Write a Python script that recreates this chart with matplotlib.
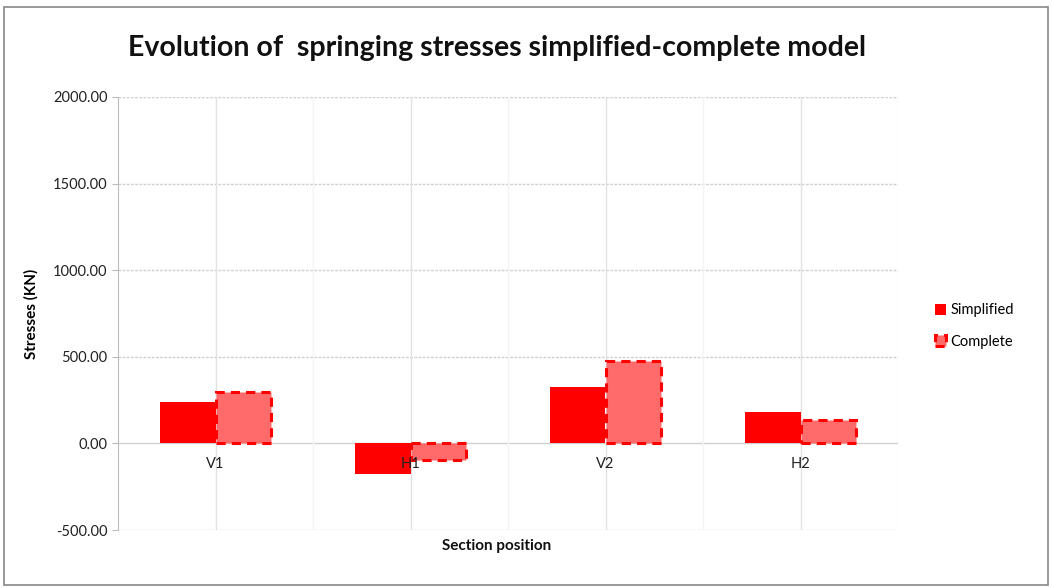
import matplotlib
matplotlib.use("Agg")
import matplotlib.pyplot as plt
import numpy as np
from matplotlib.patches import Rectangle
import matplotlib.transforms as mtransforms

categories = ["V1", "H1", "V2", "H2"]
simplified = [237, -178, 324, 183]
complete = [295, -97, 474, 137]
yticks = [-500, 0, 500, 1000, 1500, 2000]

plt.rcParams['font.family'] = ['Lato', 'DejaVu Sans']

fig = plt.figure(figsize=(10.52, 5.88), dpi=100)
ax = fig.add_axes([118/1052, 1-530/588, (898-118)/1052, (530-97)/588])

x = np.arange(len(categories))
w = 0.285
ax.bar(x - w/2, simplified, w, color="#FF0000", edgecolor="none", label="Simplified", zorder=3)
ax.bar(x + w/2, complete, w, color="#FF6B6B", edgecolor="#FF0000", linewidth=2.2,
       linestyle=(0, (3, 2)), label="Complete", zorder=3)

ax.set_xlim(-0.5, len(categories) - 0.5)
ax.set_ylim(-500, 2000)
ax.set_yticks(yticks)
ax.set_yticklabels([f"{v:.2f}" for v in yticks])
ax.set_xticks(x)
ax.set_xticklabels([])
ax.tick_params(axis='x', length=0)
ax.tick_params(axis='y', length=4, color="#BBBBBB", labelsize=10.5, colors="#222222")

# category labels placed next to the zero line (like Excel)
offset = mtransforms.ScaledTranslation(0, -21/100, fig.dpi_scale_trans)
for xi, lab in zip(x, categories):
    ax.text(xi, 0, lab, ha="center", va="center", fontsize=10.5, color="#222222",
            transform=ax.transData + offset, zorder=4)

for y in yticks:
    ax.axhline(y, color="#D0D0D0", linewidth=1, linestyle=(0, (2, 1)) if y != 0 else '-', zorder=1)
for xi in x:
    ax.axvline(xi, color="#E2E2E2", linewidth=1, zorder=1)
for xb in np.arange(-0.5, len(categories), 1.0)[1:]:
    ax.axvline(xb, color="#F4F4F4", linewidth=1, zorder=1)

for s in ["top", "right", "bottom"]:
    ax.spines[s].set_visible(False)
ax.spines["left"].set_color("#BBBBBB")

ax.set_ylabel("Stresses (KN)", fontsize=11, fontweight="bold", labelpad=10)
fig.text(497/1052, 1-546/588, "Section position", ha="center", va="center",
         fontsize=11, fontweight="bold", color="#111111")

fig.text(497/1052, 1-48/588, "Evolution of  springing stresses simplified-complete model",
         ha="center", va="center", fontsize=20.5, fontweight="bold", color="#111111")

ax.legend(loc="center left", frameon=False,
          fontsize=10.5, handlelength=0.8, handleheight=0.8, handletextpad=0.3, labelspacing=1.2)
leg = ax.get_legend()
leg.set_bbox_to_anchor((1.03, 1 - (326-97)/(530-97)), transform=ax.transAxes)

fig.patches.append(Rectangle((4/1052, 3/588), 1044/1052, 578/588, transform=fig.transFigure,
                             fill=False, edgecolor="#888888", linewidth=1.2))

fig.savefig("out.png", dpi=100)
